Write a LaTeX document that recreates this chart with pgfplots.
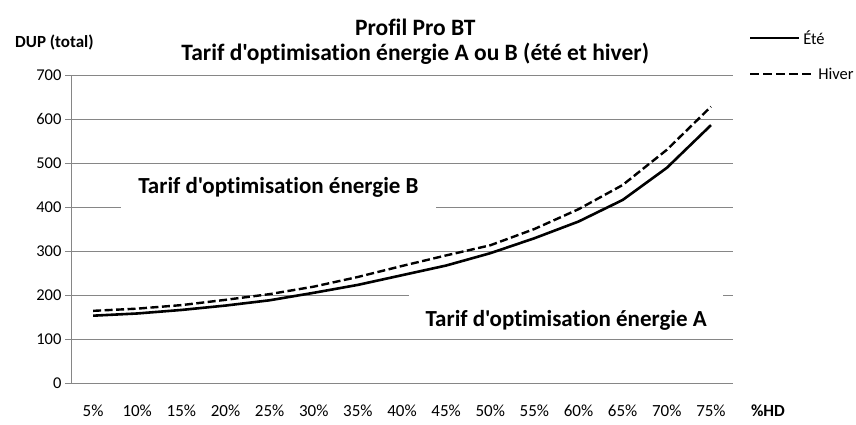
\documentclass[border=0pt]{standalone}
\usepackage{fontspec}
\setmainfont{Carlito}[Ligatures={TeXOff,NoCommon,NoContextual}]
\usepackage{pgfplots}
\pgfplotsset{compat=1.18}
\definecolor{gridgray}{RGB}{134,134,134}
\begin{document}
\begin{tikzpicture}[x=1pt,y=1pt]
\useasboundingbox (0,0) rectangle (856,424);
\begin{axis}[
  at={(71pt,41pt)}, anchor=south west,
  scale only axis, width=662pt, height=308pt,
  xmin=0.5, xmax=15.5, ymin=0, ymax=700,
  xtick={1,...,15},
  xticklabels={5\%,10\%,15\%,20\%,25\%,30\%,35\%,40\%,45\%,50\%,55\%,60\%,65\%,70\%,75\%},
  ytick={0,100,...,700},
  ymajorgrids,
  grid style={draw=gridgray, line width=1pt},
  axis x line*=bottom, axis y line*=left,
  axis line style={draw=gridgray, line width=1pt, -},
  x tick style={draw=none},
  y tick style={draw=gridgray, line width=1pt},
  tick align=outside, major tick length=6pt,
  /pgf/number format/assume math mode=true,
  yticklabel style={font=\fontsize{16.5}{19}\selectfont},
  xticklabel style={font=\fontsize{17}{20}\selectfont, yshift=-12pt},
  clip=false,
  legend style={at={(rel axis cs:1.0235,1.152)}, anchor=north west, draw=none, fill=none,
    font=\fontsize{16.5}{19}\selectfont, row sep=18pt, inner sep=0pt,
    /tikz/every odd column/.append style={column sep=1pt}},
  legend cell align=left,
]
\addplot[black, line width=2.6pt,
  legend image code/.code={\draw[black, line width=2.6pt] (0pt,0pt) -- (49pt,0pt);}] coordinates {
(1,153) (2,158) (3,166) (4,176) (5,188) (6,205) (7,223) (8,245) (9,267) (10,295) (11,329) (12,367) (13,416) (14,489) (15,586)};
\addlegendentry{\hspace{-15pt}Été}
\addplot[black, line width=2.4pt, dash pattern=on 8pt off 3.5pt,
  legend image code/.code={\draw[black, line width=2.4pt, dash pattern=on 9pt off 4pt] (0pt,0pt) -- (64pt,0pt);}] coordinates {
(1,164) (2,169) (3,177) (4,189) (5,202) (6,219) (7,241) (8,266) (9,290) (10,313) (11,350) (12,395) (13,450) (14,530) (15,628)};
\addlegendentry{Hiver}

\node[fill=white, minimum width=315pt, minimum height=44pt, inner sep=0pt] at (axis cs:5.20,439) {};
\node[font=\fontsize{23}{27}\selectfont\bfseries] at (axis cs:5.20,445) {Tarif d'optimisation énergie B};
\node[fill=white, minimum width=314pt, minimum height=44pt, inner sep=0pt] at (axis cs:11.72,160) {};
\node[font=\fontsize{23}{27}\selectfont\bfseries] at (axis cs:11.72,143) {Tarif d'optimisation énergie A};

\node[font=\fontsize{23.5}{27}\selectfont\bfseries] at (rel axis cs:0.52,1.156) {Profil Pro BT};
\node[font=\fontsize{23.5}{27}\selectfont\bfseries] at (rel axis cs:0.52,1.068) {Tarif d'optimisation énergie A ou B (été et hiver)};
\node[font=\fontsize{17}{20}\selectfont\bfseries, anchor=west, inner sep=0pt] at (rel axis cs:-0.0846,1.107) {DUP (total)};
\node[font=\fontsize{17}{20}\selectfont\bfseries, anchor=west, inner sep=0pt] at (rel axis cs:1.027,-0.091) {\%HD};
\end{axis}
\end{tikzpicture}
\end{document}
